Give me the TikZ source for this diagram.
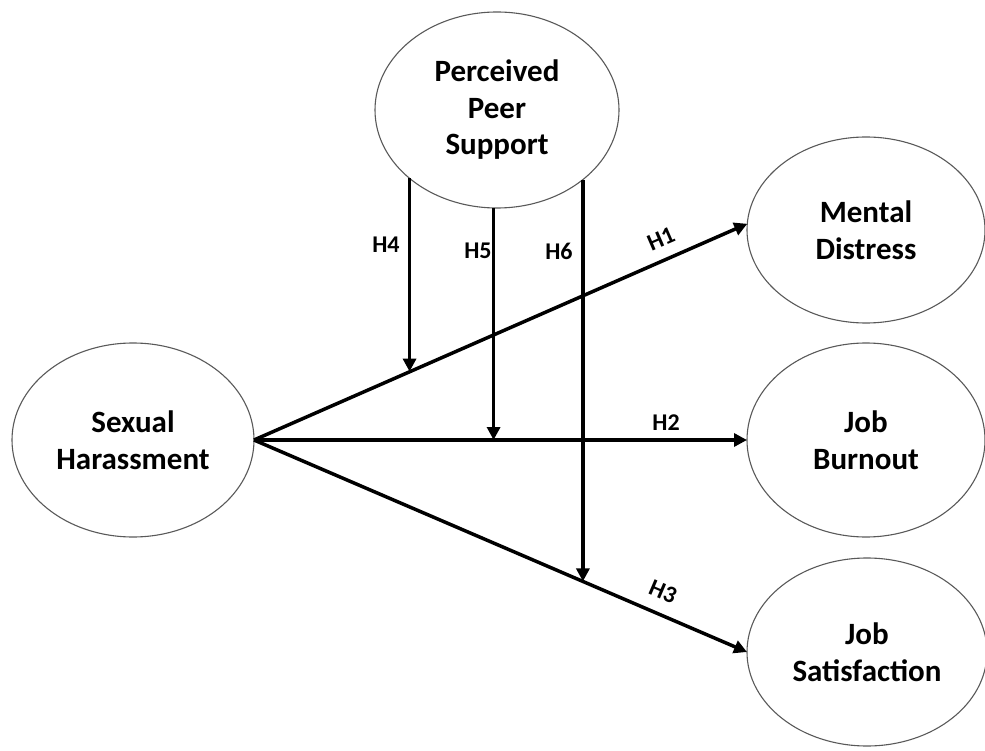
\documentclass[tikz,border=0pt]{standalone}
\usepackage{fontspec}
\setmainfont{Carlito}
\usetikzlibrary{arrows.meta,shapes.geometric,calc}
\begin{document}
\begin{tikzpicture}[x=1pt,y=-1pt,
  var/.style={ellipse, draw=black!65, line width=1.1pt, inner sep=0pt, outer sep=0pt, align=center,
              font=\fontsize{31}{36.5}\selectfont\bfseries},
  hyp/.style={line width=3.5pt, -{Triangle[length=13pt,width=13pt]}},
  hlab/.style={font=\fontsize{24}{28}\selectfont\bfseries, inner sep=0pt}]
\useasboundingbox (0,0) rectangle (985,751);
\node[var, minimum width=244pt, minimum height=196pt] (PPS) at (497,110) {Perceived\\Peer\\Support};
\node[var, minimum width=242pt, minimum height=194pt] (SH) at (133,440) {Sexual\\Harassment};
\node[var, minimum width=238pt, minimum height=186pt] (MD) at (866,230) {Mental\\Distress};
\node[var, minimum width=238pt, minimum height=194pt] (JB) at (866,440) {Job\\Burnout};
\node[var, minimum width=240pt, minimum height=188pt] (JS) at (867,652) {Job\\Satisfaction};

\draw[hyp] (SH.east) -- (MD.177);
\draw[hyp] (SH.east) -- (JB.west);
\draw[hyp] (SH.east) -- (JS.west);

\coordinate (t4) at ($(SH.east)!0.3164!(MD.177)$);
\coordinate (t5) at ($(SH.east)!0.488!(JB.west)$);
\coordinate (t6) at ($(SH.east)!0.667!(JS.west)$);

\draw[hyp] (PPS.218.3) -- (PPS.218.3 |- t4);
\draw[hyp] (PPS.268.8) -- (PPS.268.8 |- t5);
\draw[hyp] (PPS.321.1) -- (PPS.321.1 |- t6);

\node[hlab, rotate=23.4] (h1) at (661,239) {H1};
\node[hlab] (h2) at (666,423) {H2};
\node[hlab, rotate=-23.2] (h3) at (663,592) {H3};
\node[hlab] (h4) at (386,245) {H4};
\node[hlab] (h5) at (478,251) {H5};
\node[hlab] (h6) at (559,251) {H6};
\end{tikzpicture}
\end{document}
